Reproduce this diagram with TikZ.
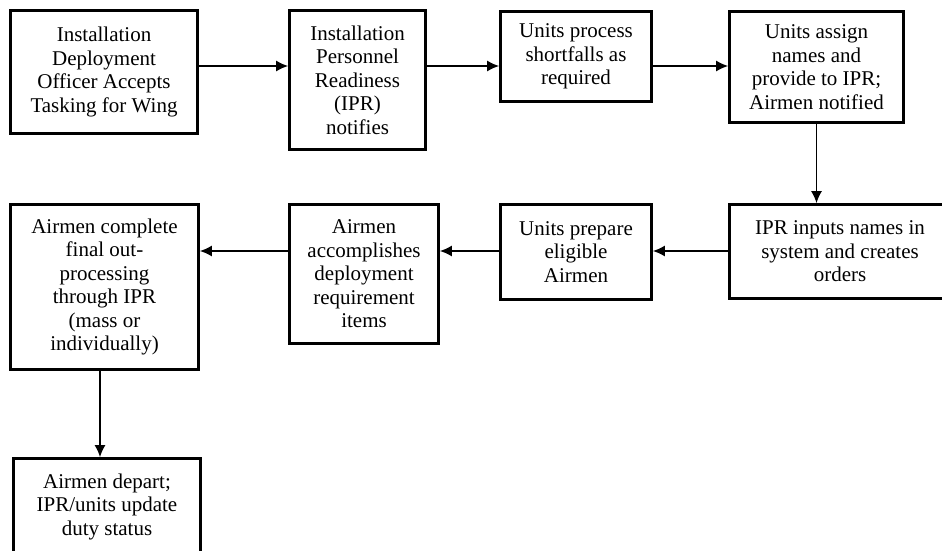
\documentclass[tikz,border=0pt]{standalone}
\usepackage{fontspec}
\setmainfont{Liberation Serif}
\usetikzlibrary{arrows.meta}

\begin{document}
\begin{tikzpicture}[x=1pt, y=-1pt, >={Latex[length=12pt,width=11pt]}, block/.style={rectangle, draw, line width=2.8pt, align=center, inner sep=2pt, font=\fontsize{21}{23.5}\selectfont}, flow/.style={->, line width=1.3pt}]

  \useasboundingbox (0,0) rectangle (942,551);
  \clip (0,0) rectangle (942,551);

  \node[block, minimum width=187, minimum height=123] (tasking) at (104,72) {Installation\\Deployment\\Officer Accepts\\Tasking for Wing};
  \node[block, minimum width=136, minimum height=139] (notify) at (357.5,80) {Installation\\Personnel\\Readiness\\(IPR)\\notifies};
  \node[block, minimum width=151, minimum height=90] (shortfall) at (576,56.5) {Units process\\shortfalls as\\required};
  \node[block, minimum width=174, minimum height=111] (assign) at (816.5,67) {Units assign\\names and\\provide to IPR;\\Airmen notified};
  \node[block, minimum width=221, minimum height=94] (orders) at (840,251.5) {IPR inputs names in\\system and creates\\orders};
  \node[block, minimum width=151, minimum height=95] (prepare) at (576,252) {Units prepare\\eligible\\Airmen};
  \node[block, minimum width=149, minimum height=139] (accomplish) at (364,274) {Airmen\\accomplishes\\deployment\\requirement\\items};
  \node[block, minimum width=188, minimum height=165] (outproc) at (104.5,287) {Airmen complete\\final out-\\processing\\through IPR\\(mass or\\individually)};
  \node[block, minimum width=187, minimum height=96] (depart) at (107,506.5) {Airmen depart;\\IPR/units update\\duty status};

  \node[coordinate] (row1) at (0,66) {};
  \node[coordinate] (row2) at (0,251) {};
  \node[coordinate] (col) at (100,0) {};

  \draw[flow] (tasking.east |- row1) -- (notify.west |- row1);
  \draw[flow] (notify.east |- row1) -- (shortfall.west |- row1);
  \draw[flow] (shortfall.east |- row1) -- (assign.west |- row1);
  \draw[flow] (assign) -- (orders.north -| assign);
  \draw[flow] (orders.west |- row2) -- (prepare.east |- row2);
  \draw[flow] (prepare.west |- row2) -- (accomplish.east |- row2);
  \draw[flow] (accomplish.west |- row2) -- (outproc.east |- row2);
  \draw[flow] (outproc.south -| col) -- (depart.north -| col);
  \end{tikzpicture}
\end{document}
